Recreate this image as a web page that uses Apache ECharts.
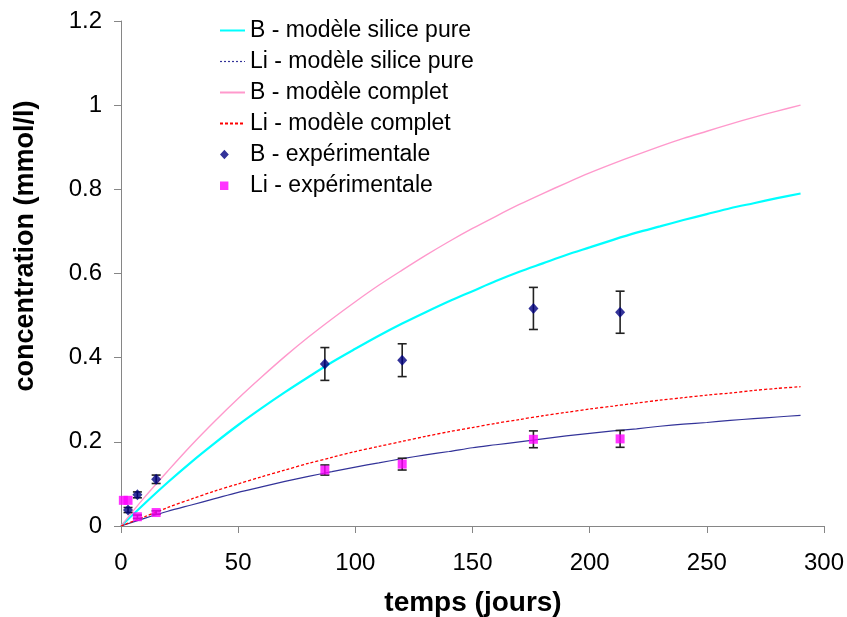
<!DOCTYPE html>
<html>
<head>
<meta charset="utf-8">
<script src="https://cdn.jsdelivr.net/npm/echarts@6/dist/echarts.min.js"></script>
<style>html,body{margin:0;padding:0;background:#fff}#c{width:847px;height:617px}</style>
</head>
<body>
<div id="c"></div>
<script>
// time grid for model curves (days)
const tModel = [0,10,20,30,40,50,60,70,80,90,100,110,120,130,140,150,160,170,180,190,200,210,220,230,240,250,260,270,280,290];
// B - modèle silice pure
const bPure = [0,0.053,0.104,0.152,0.197,0.240,0.280,0.318,0.354,0.389,0.421,0.452,0.481,0.508,0.534,0.558,0.582,0.604,0.624,0.644,0.662,0.680,0.697,0.712,0.727,0.741,0.755,0.767,0.779,0.790];
// Li - modèle silice pure
const liPure = [0,0.018,0.035,0.050,0.065,0.080,0.093,0.106,0.118,0.129,0.140,0.150,0.160,0.169,0.177,0.186,0.193,0.200,0.207,0.214,0.220,0.226,0.231,0.237,0.242,0.246,0.251,0.255,0.259,0.263];
// B - modèle complet
const bFull = [0,0.068,0.131,0.192,0.249,0.303,0.354,0.403,0.449,0.492,0.533,0.572,0.608,0.643,0.676,0.707,0.736,0.764,0.790,0.815,0.839,0.861,0.882,0.902,0.921,0.938,0.955,0.971,0.986,1.000];
// Li - modèle complet
const liFull = [0,0.022,0.044,0.064,0.083,0.100,0.117,0.133,0.149,0.163,0.177,0.189,0.201,0.213,0.224,0.234,0.244,0.253,0.262,0.270,0.278,0.285,0.292,0.299,0.305,0.311,0.316,0.322,0.327,0.331];
// experimental B
const tB = [3,7,15,87,120,176,213];
const cB = [0.038,0.074,0.111,0.385,0.394,0.517,0.508];
const eB = [0.006,0.007,0.010,0.039,0.039,0.050,0.050];
// experimental Li
const tLi = [1,3,7,15,87,120,176,213];
const cLi = [0.061,0.061,0.022,0.032,0.133,0.147,0.206,0.207];
const eLi = [0,0,0.004,0.004,0.012,0.014,0.020,0.020];
// axis ticks
const xTicks = [0,50,100,150,200,250,300];
const yTicks = [0,0.2,0.4,0.6,0.8,1,1.2];

const names = ['B - modèle silice pure','Li - modèle silice pure','B - modèle complet','Li - modèle complet','B - expérimentale','Li - expérimentale'];
const FONT = '"Liberation Sans", Arial, sans-serif';
const zip = (a,b) => a.map((v,i)=>[v,b[i]]);

function errRender(params, api){
  const x = api.value(0), lo = api.value(1), hi = api.value(2);
  if (hi - lo <= 0) return null;
  const p1 = api.coord([x, lo]), p2 = api.coord([x, hi]);
  const w = 4.5;
  const st = {stroke:'#222', lineWidth:1.6};
  return {type:'group', children:[
    {type:'line', shape:{x1:p1[0],y1:p1[1],x2:p2[0],y2:p2[1]}, style:st},
    {type:'line', shape:{x1:p1[0]-w,y1:p1[1],x2:p1[0]+w,y2:p1[1]}, style:st},
    {type:'line', shape:{x1:p2[0]-w,y1:p2[1],x2:p2[0]+w,y2:p2[1]}, style:st}
  ]};
}

const hideSym = {opacity:0, borderWidth:0};
const chart = echarts.init(document.getElementById('c'), null, {renderer:'canvas'});
chart.setOption({
  animation:false,
  backgroundColor:'#fff',
  grid:{left:121, right:22, top:21, bottom:91},
  xAxis:{
    type:'value', min:xTicks[0], max:xTicks[xTicks.length-1], interval:50,
    axisLine:{show:true, onZero:false, lineStyle:{color:'#868686', width:1}},
    axisTick:{show:true, inside:false, length:7, lineStyle:{color:'#868686'}},
    splitLine:{show:false},
    axisLabel:{fontFamily:FONT, fontSize:24, color:'#000', margin:25}
  },
  yAxis:{
    type:'value', min:yTicks[0], max:yTicks[yTicks.length-1], interval:0.2,
    axisLine:{show:true, onZero:false, lineStyle:{color:'#868686', width:1}},
    axisTick:{show:true, inside:false, length:7, lineStyle:{color:'#868686'}},
    splitLine:{show:false},
    axisLabel:{fontFamily:FONT, fontSize:24, color:'#000', margin:19}
  },
  legend:{
    orient:'vertical', left:219, top:17, padding:0, itemWidth:25, itemHeight:14, itemGap:4,
    textStyle:{fontFamily:FONT, fontSize:23, color:'#000', lineHeight:27},
    data:[
      {name:names[0], itemStyle:hideSym},
      {name:names[1], itemStyle:hideSym, lineStyle:{type:[2,2], color:'#333399', width:1.2}},
      {name:names[2], itemStyle:hideSym},
      {name:names[3], itemStyle:hideSym},
      {name:names[4], icon:'path://M0,7 L4.4,2.2 L8.8,7 L4.4,11.8 Z M25,0 L25,14 Z'},
      {name:names[5], icon:'path://M0,3 L8.4,3 L8.4,11.4 L0,11.4 Z M25,0 L25,14 Z'}
    ]
  },
  graphic:[
    {type:'text', x:26, y:246, rotation:Math.PI/2,
     style:{text:'concentration (mmol/l)', font:'bold 27px "Liberation Sans", Arial, sans-serif', fill:'#000', align:'center', verticalAlign:'middle'}},
    {type:'text', x:473, y:603,
     style:{text:'temps (jours)', font:'bold 28px "Liberation Sans", Arial, sans-serif', fill:'#000', align:'center', verticalAlign:'middle'}}
  ],
  series:[
    {name:names[0], type:'line', data:zip(tModel,bPure), symbol:'none', smooth:0.3,
     lineStyle:{color:'#00FFFF', width:2.2}, itemStyle:{color:'#00FFFF'}, z:2},
    {name:names[1], type:'line', data:zip(tModel,liPure), symbol:'none', smooth:0.3,
     lineStyle:{color:'#333399', width:1.2}, itemStyle:{color:'#333399'}, z:2},
    {name:names[2], type:'line', data:zip(tModel,bFull), symbol:'none', smooth:0.3,
     lineStyle:{color:'#FF99CC', width:1.4}, itemStyle:{color:'#FF99CC'}, z:2},
    {name:names[3], type:'line', data:zip(tModel,liFull), symbol:'none', smooth:0.3,
     lineStyle:{color:'#FF0000', width:1.3, type:[3,2]}, itemStyle:{color:'#FF0000'}, z:2},
    {name:'errB', type:'custom', renderItem:errRender, data:tB.map((t,i)=>[t,cB[i]-eB[i],cB[i]+eB[i]]),
     encode:{x:0, y:[1,2]}, z:3, silent:true},
    {name:'errLi', type:'custom', renderItem:errRender, data:tLi.map((t,i)=>[t,cLi[i]-eLi[i],cLi[i]+eLi[i]]),
     encode:{x:0, y:[1,2]}, z:3, silent:true},
    {name:names[4], type:'scatter', data:zip(tB,cB), symbol:'diamond', symbolSize:[10,11],
     itemStyle:{color:'#000080'}, z:4},
    {name:names[5], type:'scatter', data:zip(tLi,cLi), symbol:'rect', symbolSize:9,
     itemStyle:{color:'#FF00FF'}, z:4}
  ]
});
</script>
</body>
</html>
